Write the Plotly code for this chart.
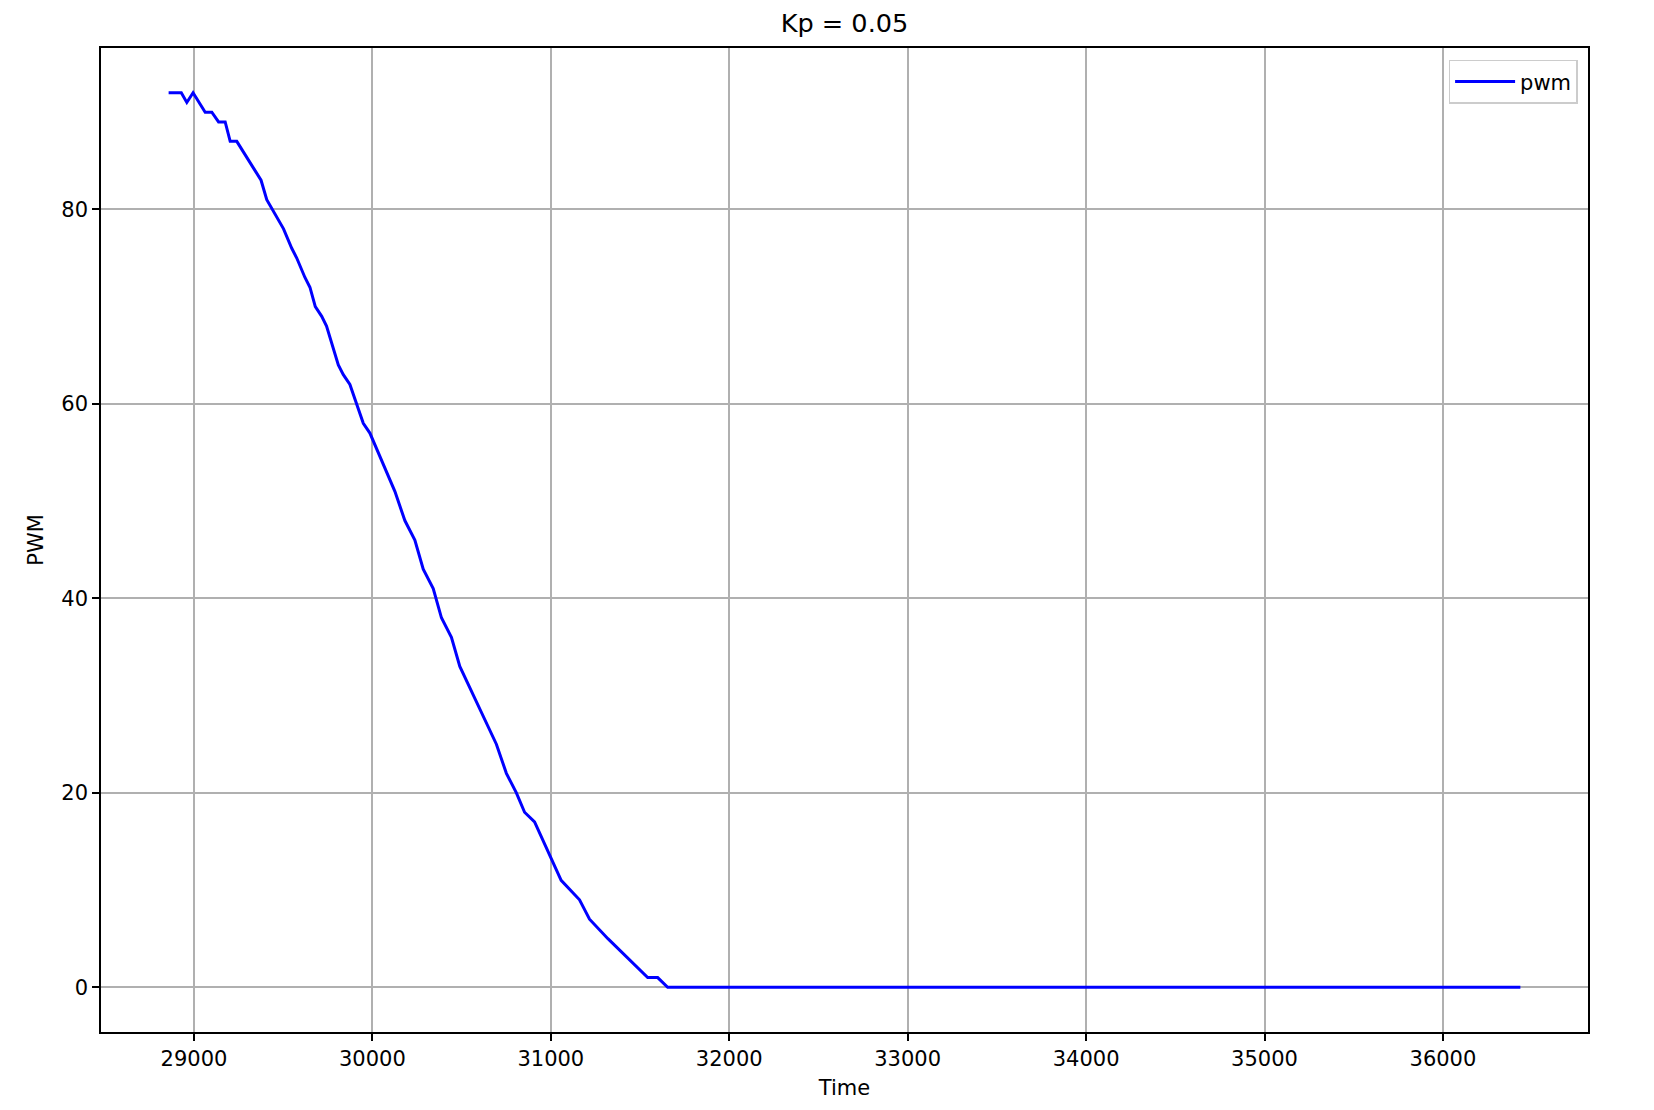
import plotly.graph_objects as go

# Data
time_ms = [28858, 28929, 28960, 28995, 29063, 29100, 29138, 29175, 29203, 29240,
           29376, 29408, 29502, 29548, 29576, 29622, 29650, 29680, 29716, 29743,
           29809, 29837, 29874, 29949, 29986, 30033, 30126, 30182, 30238, 30285,
           30341, 30387, 30443, 30490, 30695, 30751, 30807, 30853, 30909, 31058,
           31161, 31217, 31320, 31543, 31599, 31655, 36434]
pwm = [92, 92, 91, 92, 90, 90, 89, 89, 87, 87,
       83, 81, 78, 76, 75, 73, 72, 70, 69, 68,
       64, 63, 62, 58, 57, 55, 51, 48, 46, 43,
       41, 38, 36, 33, 25, 22, 20, 18, 17, 11,
       9, 7, 5, 1, 1, 0, 0]

x_ticks = [29000, 30000, 31000, 32000, 33000, 34000, 35000, 36000]
y_ticks = [0, 20, 40, 60, 80]

FONT = "DejaVu Sans"

fig = go.Figure()
fig.add_trace(go.Scatter(
    x=time_ms, y=pwm, mode="lines", name="pwm",
    line=dict(color="#0000ff", width=3),
))

axis_common = dict(
    showline=True, linecolor="black", linewidth=1.6, mirror=True,
    showgrid=True, gridcolor="#b0b0b0", gridwidth=1.6,
    ticks="outside", ticklen=7, tickwidth=1.6, tickcolor="black",
    tickfont=dict(family=FONT, size=21, color="black"),
    zeroline=False,
)

fig.update_layout(
    width=1654, height=1110,
    margin=dict(l=93, r=74, t=40, b=86),
    paper_bgcolor="white", plot_bgcolor="white",
    font=dict(family=FONT, size=21, color="black"),
    title=dict(text="Kp = 0.05", x=0.5, xref="paper", xanchor="center",
               y=1 - 15 / 1110, yref="container", yanchor="middle",
               font=dict(family=FONT, size=25.6, color="black")),
    xaxis=dict(range=[28479, 36813], tickvals=x_ticks, tickformat="d",
               title=dict(text="Time", standoff=10,
                          font=dict(family=FONT, size=21, color="black")),
               **axis_common),
    yaxis=dict(range=[-4.6, 96.6], tickvals=y_ticks, tickformat="d",
               title=dict(text="PWM", standoff=12,
                          font=dict(family=FONT, size=21, color="black")),
               **axis_common),
    showlegend=True,
    legend=dict(x=0.993, y=0.988, xanchor="right", yanchor="top",
                itemwidth=60,
                bgcolor="rgba(255,255,255,0.8)", bordercolor="#cccccc",
                borderwidth=1.5, font=dict(family=FONT, size=21, color="black")),
)

fig.write_html("out.html")
